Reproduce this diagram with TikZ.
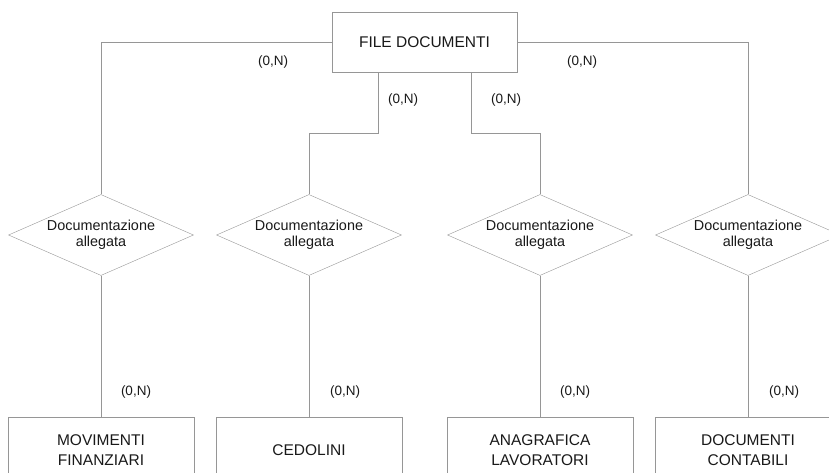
\documentclass[tikz,border=0pt]{standalone}
\usepackage{fontspec}
\setmainfont{Liberation Sans}
\usetikzlibrary{shapes.geometric}
\definecolor{linegray}{RGB}{150,150,150}
\definecolor{textgray}{RGB}{25,25,25}
\tikzset{
  entity/.style={draw=linegray, rectangle, minimum width=185pt, minimum height=60pt,
    align=center, text=textgray, font=\fontsize{15.5}{20}\selectfont},
  relation/.style={draw=linegray, diamond, aspect=2.3, inner sep=0pt, minimum width=185pt,
    minimum height=81pt, align=center, text=textgray, font=\fontsize{14.4}{16.5}\selectfont},
  card/.style={text=textgray, font=\fontsize{13.5}{16}\selectfont},
  link/.style={draw=linegray, thin}
}
\begin{document}
\begin{tikzpicture}[x=1pt, y=-1pt]
    \useasboundingbox (0,0) rectangle (829,473);
    \node[entity] (file) at (424.5, 42) {FILE DOCUMENTI};
    \node[relation] (r1) at (101, 235) {Documentazione\\allegata};
    \node[relation] (r2) at (309, 235) {Documentazione\\allegata};
    \node[relation] (r3) at (540, 235) {Documentazione\\allegata};
    \node[relation] (r4) at (748, 235) {Documentazione\\allegata};
    \node[entity, minimum width=186pt, minimum height=66pt] (mov) at (101, 450) {MOVIMENTI\\FINANZIARI};
    \node[entity, minimum width=186pt, minimum height=66pt] (ced) at (309, 450) {CEDOLINI};
    \node[entity, minimum width=186pt, minimum height=66pt] (ana) at (540, 450) {ANAGRAFICA\\LAVORATORI};
    \node[entity, minimum width=186pt, minimum height=66pt] (doc) at (748, 450) {DOCUMENTI\\CONTABILI};
    \draw[link] (file.west) -| (r1.north);
    \draw[link] ([xshift=-46.5pt]file.south) -- ++(0,61) -| (r2.north);
    \draw[link] ([xshift=46.5pt]file.south) -- ++(0,61) -| (r3.north);
    \draw[link] (file.east) -| (r4.north);
    \draw[link] (r1.south) -- (mov.north);
    \draw[link] (r2.south) -- (ced.north);
    \draw[link] (r3.south) -- (ana.north);
    \draw[link] (r4.south) -- (doc.north);
    \node[card] (c1) at (273, 62) {(0,N)};
    \node[card] (c2) at (403, 100) {(0,N)};
    \node[card] (c3) at (506, 100) {(0,N)};
    \node[card] (c4) at (582, 62) {(0,N)};
    \node[card] (c5) at (136, 392) {(0,N)};
    \node[card] (c6) at (345, 392) {(0,N)};
    \node[card] (c7) at (575, 392) {(0,N)};
    \node[card] (c8) at (784, 392) {(0,N)};
  \end{tikzpicture}
\end{document}
